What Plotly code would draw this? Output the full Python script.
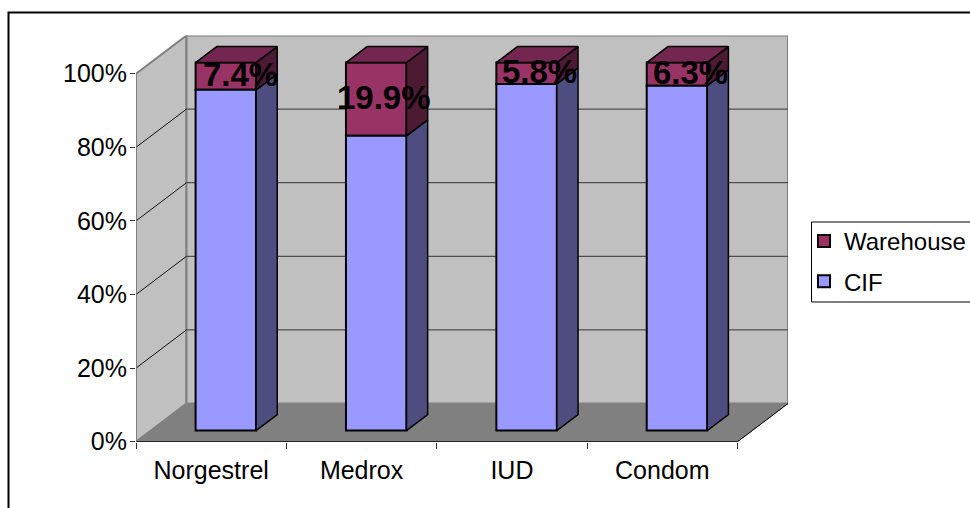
import plotly.graph_objects as go

categories = ["Norgestrel", "Medrox", "IUD", "Condom"]
warehouse = [7.4, 19.9, 5.8, 6.3]
cif = [92.6, 80.1, 94.2, 93.7]
y_ticks = [0, 20, 40, 60, 80, 100]

W, H = 970, 508
FONT = "Liberation Sans, Arial, sans-serif"
PX_X = 150.4           # pixels per category
PX_Y = 368.0           # pixels per 100%
DX = 50.5 / PX_X       # chart depth expressed in axis units
DY = 38.2 / PX_Y
NEAR, FAR = 0.29, 0.71 # bar position inside the depth of the chart
BAR_W = 60.5 / PX_X
n = len(categories)
label_nudge = [4, -3, 2, 3]


def proj(c, v, d):
    return c + d * DX, v + d * DY


def poly(points):
    path = "M " + " L ".join(f"{x},{y}" for x, y in points) + " Z"
    return path


def seg(p, q, color, width=1):
    return dict(type="line", xref="x", yref="y", x0=p[0], y0=p[1], x1=q[0], y1=q[1],
                layer="below", line=dict(color=color, width=width))


shapes = [
    # side wall, back wall and floor
    dict(type="path", xref="x", yref="y", layer="below", fillcolor="#C0C0C0",
         line=dict(color="#808080", width=2),
         path=poly([proj(0, 0, 0), proj(0, 0, 1), proj(0, 1, 1), proj(0, 1, 0)])),
    dict(type="path", xref="x", yref="y", layer="below", fillcolor="#C0C0C0",
         line=dict(color="#808080", width=2),
         path=poly([proj(0, 0, 1), proj(n, 0, 1), proj(n, 1, 1), proj(0, 1, 1)])),
    dict(type="path", xref="x", yref="y", layer="below", fillcolor="#808080",
         line=dict(color="#808080", width=1),
         path=poly([proj(0, 0, 0), proj(n, 0, 0), proj(n, 0, 1), proj(0, 0, 1)])),
]
for t in y_ticks[1:-1]:
    v = t / 100
    shapes.append(seg(proj(0, v, 0), proj(0, v, 1), "#111111"))
    shapes.append(seg(proj(0, v, 1), proj(n, v, 1), "#333333"))
shapes.append(seg(proj(0, 0, 0), proj(n, 0, 0), "#000000", 1.5))
shapes.append(seg(proj(n, 0, 0), proj(n, 0, 1), "#000000", 1))
shapes.append(seg(proj(0, 0, 0), proj(0, 1, 0), "#808080", 1.5))
# outer frame of the embedded chart
shapes.append(dict(type="rect", xref="paper", yref="paper", x0=8.5 / W, x1=1.02,
                   y0=-0.05, y1=1 - 12.5 / H, line=dict(color="#000000", width=2)))
# legend frame, running off the right edge as in the reference
shapes.append(dict(type="rect", xref="paper", yref="paper", x0=811.5 / W, x1=1.02,
                   y0=1 - 302 / H, y1=1 - 222 / H, layer="below",
                   fillcolor="#FFFFFF", line=dict(color="#000000", width=1)))

fig = go.Figure()

base = NEAR * DY
xc = [i + 0.5 + NEAR * DX for i in range(n)]
fig.add_bar(name="Warehouse", x=xc, y=[w / 100 for w in warehouse],
            base=[base + c / 100 for c in cif], width=BAR_W, legendgroup="w",
            marker=dict(color="#993366", line=dict(color="#000000", width=2)),
            cliponaxis=False, hoverinfo="skip")
fig.add_bar(name="CIF", x=xc, y=[c / 100 for c in cif], base=base, width=BAR_W, legendgroup="c",
            marker=dict(color="#9999FF", line=dict(color="#000000", width=2)),
            cliponaxis=False, hoverinfo="skip")


def faces(color, build):
    xs, ys = [], []
    for i in range(n):
        pts = build(i)
        xs += [p[0] for p in pts] + [pts[0][0], None]
        ys += [p[1] for p in pts] + [pts[0][1], None]
    fig.add_scatter(x=xs, y=ys, mode="lines", fill="toself", fillcolor=color,
                    line=dict(color="#000000", width=1.5), showlegend=False,
                    hoverinfo="skip", cliponaxis=False)


def side(i, lo, hi):
    r = i + 0.5 + BAR_W / 2
    return [proj(r, lo, NEAR), proj(r, lo, FAR), proj(r, hi, FAR), proj(r, hi, NEAR)]


def top(i):
    l, r = i + 0.5 - BAR_W / 2, i + 0.5 + BAR_W / 2
    return [proj(l, 1, NEAR), proj(r, 1, NEAR), proj(r, 1, FAR), proj(l, 1, FAR)]


faces("#4D4D80", lambda i: side(i, 0, cif[i] / 100))
faces("#4D1A33", lambda i: side(i, cif[i] / 100, 1))
faces("#732650", top)

annotations = []
for i in range(n):
    mid = (cif[i] + warehouse[i] / 2) / 100
    x, y = proj(i + 0.5, mid, 0.5)
    annotations.append(dict(x=x, y=y, xref="x", yref="y", text=f"{warehouse[i]:.1f}%",
                            showarrow=False, xshift=label_nudge[i], yshift=-6,
                            font=dict(family=FONT, size=33, color="#000000", weight="bold")))

fig.update_layout(
    width=W, height=H, margin=dict(l=0, r=0, t=0, b=0, autoexpand=False),
    paper_bgcolor="#FFFFFF", plot_bgcolor="rgba(0,0,0,0)",
    barmode="overlay", shapes=shapes, annotations=annotations,
    font=dict(family=FONT, size=25, color="#000000"),
    xaxis=dict(domain=[136 / W, 788 / W], range=[0, n + DX], showgrid=False, zeroline=False,
               showline=False, tickmode="array", tickvals=[i + 0.5 for i in range(n)],
               ticktext=categories, ticks="", ticklabelstandoff=11,
               minor=dict(tickmode="array", tickvals=list(range(n + 1)), ticks="outside",
                          ticklen=6, tickcolor="#333333", tickwidth=1, showgrid=False)),
    yaxis=dict(domain=[(H - 441.7) / H, (H - 35.5) / H], range=[0, 1 + DY], showgrid=False,
               zeroline=False, showline=False, tickmode="array",
               tickvals=[t / 100 for t in y_ticks], ticktext=[f"{t}%" for t in y_ticks],
               ticks="outside", ticklen=5, tickcolor="#333333", tickwidth=1,
               ticklabelstandoff=-2),
    legend=dict(x=804 / W, xanchor="left", y=1 - 219 / H, yanchor="top",
                bgcolor="rgba(0,0,0,0)", borderwidth=0, traceorder="grouped",
                tracegroupgap=6, font=dict(family=FONT, size=24)),
)

fig.write_html("out.html", config={"displayModeBar": False},
               post_script="document.body.style.margin='0';")
